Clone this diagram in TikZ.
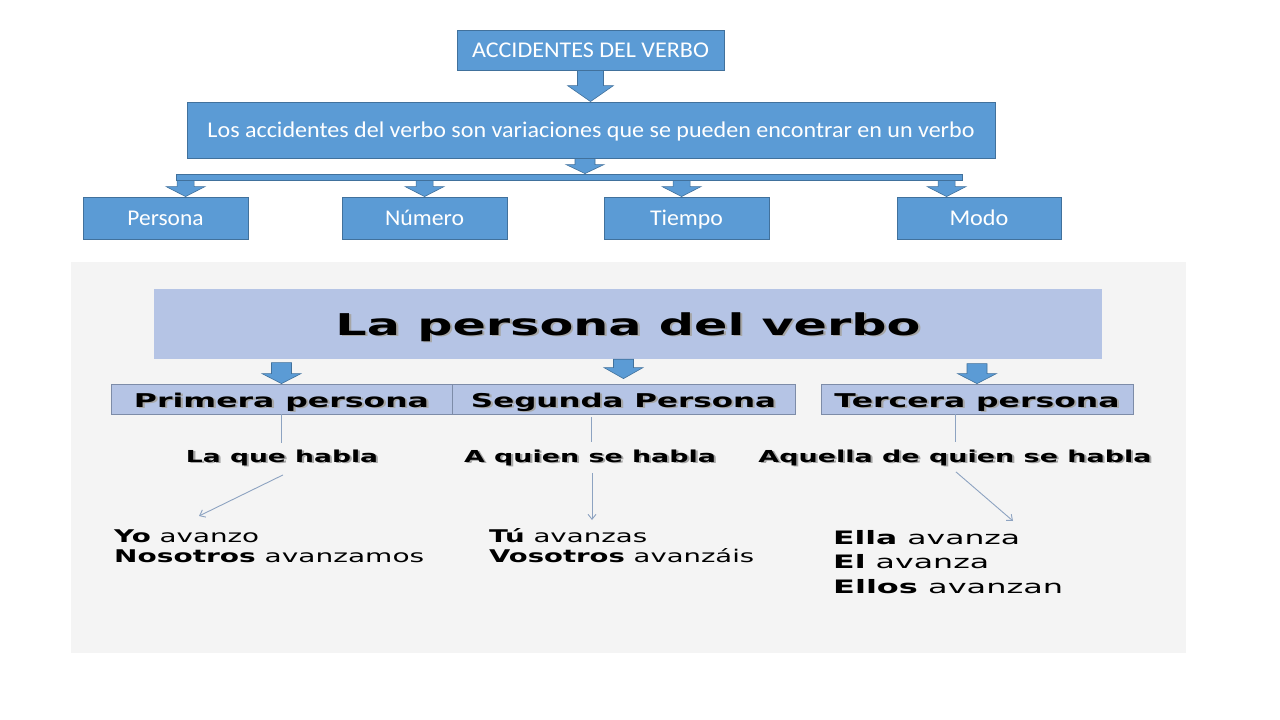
\documentclass[tikz,border=0pt]{standalone}
\usepackage{fontspec}
\setmainfont{Carlito}
\newfontfamily\vfont{DejaVu Sans}
\usetikzlibrary{calc,arrows.meta}
\definecolor{bfill}{HTML}{5B9BD5}
\definecolor{bline}{HTML}{41719C}
\definecolor{lbfill}{HTML}{B5C4E5}
\definecolor{lbline}{HTML}{7D8CA8}
\definecolor{panelc}{HTML}{F4F4F4}
\definecolor{thinc}{HTML}{8DA3C1}
\newcommand\fw[2]{\resizebox{#1pt}{\height}{#2}}
\newcommand\shd[1]{\makebox[0pt][l]{\hspace{1.3pt}\raisebox{-1.3pt}{\textcolor{black!35}{#1}}}#1}
\newcommand\barrow[5]{\filldraw[blockarr] let \p1=#1, \p2=#2 in (\x1-#3pt,\y1) -- (\x1+#3pt,\y1) -- (\x1+#3pt,\y2+#5pt) -- (\x1+#4pt,\y2+#5pt) -- (\x1,\y2) -- (\x1-#4pt,\y2+#5pt) -- (\x1-#3pt,\y2+#5pt) -- cycle;}
\begin{document}
\begin{tikzpicture}[x=1pt,y=-1pt,
 topbox/.style={draw=bline,line width=0.9pt,fill=bfill,text=white,inner sep=0pt,text height=19pt,text depth=4pt,font=\fontsize{22.5}{26}\selectfont},
 lbox/.style={draw=lbline,line width=0.8pt,fill=lbfill,inner sep=0pt,text height=20pt,text depth=4pt,font=\vfont\bfseries\fontsize{19}{22}\selectfont},
 blockarr/.style={fill=bfill,draw=bline,line width=0.6pt},
 thinl/.style={draw=thinc,line width=0.9pt},
 thinarr/.style={thinl,-{Straight Barb[length=5pt,width=8pt]}},
 lbl/.style={font=\vfont\bfseries\fontsize{16.5}{20}\selectfont,inner sep=0pt,anchor=base},
 ex/.style={font=\vfont\fontsize{17.5}{20}\selectfont,inner sep=0pt,anchor=base west},
 exb/.style={ex,font=\vfont\fontsize{18.5}{22}\selectfont},
]
\useasboundingbox (0,0) rectangle (1280,720);
\fill[white] (0,0) rectangle (1280,720);

% ---------- top part ----------
\node[topbox,minimum width=267,minimum height=40] (acc) at (590.5,50) {\fw{237}{ACCIDENTES DEL VERBO}};
\node[topbox,minimum width=808,minimum height=56] (def) at (591,130) {\fw{767}{Los accidentes del verbo son variaciones que se pueden encontrar en un verbo}};
\node[topbox,text height=0pt,text depth=0pt,minimum width=786,minimum height=6] (bar) at (569,177) {};
\node[topbox,minimum width=165,minimum height=42] (persona) at (165.5,218) {\fw{76}{Persona}};
\node[topbox,minimum width=165,minimum height=42] (numero) at (424.5,218) {\fw{79}{Número}};
\node[topbox,minimum width=165,minimum height=42] (tiempo) at (686.5,218) {\fw{73}{Tiempo}};
\node[topbox,minimum width=164,minimum height=42] (modo) at (979,218) {\fw{59}{Modo}};

\barrow{(acc.south)}{(def.north)}{13}{23}{16}
\coordinate (a2s) at ($(def.south)+(-6,0)$);
\barrow{(a2s)}{(a2s |- bar.north)}{10}{19}{9}
\coordinate (d1) at ($(bar.south west)+(10,0)$);
\coordinate (d2) at ($(bar.south west)+(249,0)$);
\coordinate (d3) at ($(bar.south west)+(506,0)$);
\coordinate (d4) at ($(bar.south west)+(771,0)$);
\barrow{(d1)}{(d1 |- persona.north)}{8.5}{19.5}{10}
\barrow{(d2)}{(d2 |- numero.north)}{8.5}{19.5}{10}
\barrow{(d3)}{(d3 |- tiempo.north)}{8.5}{19.5}{10}
\barrow{(d4)}{(d4 |- modo.north)}{8.5}{19.5}{10}

% ---------- bottom part ----------
\fill[panelc] (71,262) rectangle (1186,653);
\node[fill=lbfill,minimum width=948,minimum height=70,inner sep=0pt,text height=28pt,text depth=6pt,font=\vfont\bfseries\fontsize{30}{34}\selectfont] (title) at (628,324) {\fw{585}{\shd{La persona del verbo}}};
\node[lbox,minimum width=341,minimum height=30] (primera) at (281.5,399) {\fw{295}{\shd{Primera persona}}};
\node[lbox,minimum width=343,minimum height=30] (segunda) at (623.5,399) {\fw{305}{\shd{Segunda Persona}}};
\node[lbox,minimum width=312,minimum height=30] (tercera) at (977,399) {\fw{285}{\shd{Tercera persona}}};

\coordinate (b1s) at ($(primera.north)+(0,-21)$);
\barrow{(b1s)}{(primera.north)}{10}{19.5}{10}
\coordinate (b2e) at ($(segunda.north)+(0,-5)$);
\barrow{(b2e |- title.south)}{(b2e)}{10}{19.5}{11}
\coordinate (b3s) at ($(tercera.north)+(0,-20)$);
\barrow{(b3s)}{(tercera.north)}{10}{19.5}{10}

\node[lbl] (l1) at (282,462) {\fw{192}{\shd{La que habla}}};
\node[lbl] (l2) at (590,462) {\fw{252}{\shd{A quien se habla}}};
\node[lbl] (l3) at (955,462) {\fw{393}{\shd{Aquella de quien se habla}}};

\draw[thinl] (primera.south) -- ++(0,29);
\draw[thinl] ($(segunda.south west)+(140,3)$) -- ++(0,25);
\draw[thinl] ($(tercera.south west)+(135,0)$) -- ++(0,28);

\node[ex] (e11) at (114,542) {\fw{145}{\textbf{Yo} avanzo}};
\node[ex] (e12) at (114,562) {\fw{310}{\textbf{Nosotros} avanzamos}};
\node[ex] (e21) at (489,542) {\fw{158}{\textbf{Tú} avanzas}};
\node[ex] (e22) at (489,562) {\fw{265}{\textbf{Vosotros} avanzáis}};
\node[exb] (e31) at (833,544) {\fw{187}{\textbf{Ella} avanza}};
\node[exb] (e32) at (833,568.5) {\fw{156}{\textbf{El} avanza}};
\node[exb] (e33) at (833,593) {\fw{230}{\textbf{Ellos} avanzan}};

\coordinate (t1) at (199,516);
\coordinate (t2) at (592,520);
\coordinate (t3) at (1013,521);
\draw[thinarr] ($(l1.south)+(1,8)$) -- (t1);
\draw[thinarr] (l2.south -| t2) ++(0,6) -- (t2);
\draw[thinarr] ($(l3.south)+(1,5)$) -- (t3);
\end{tikzpicture}
\end{document}
